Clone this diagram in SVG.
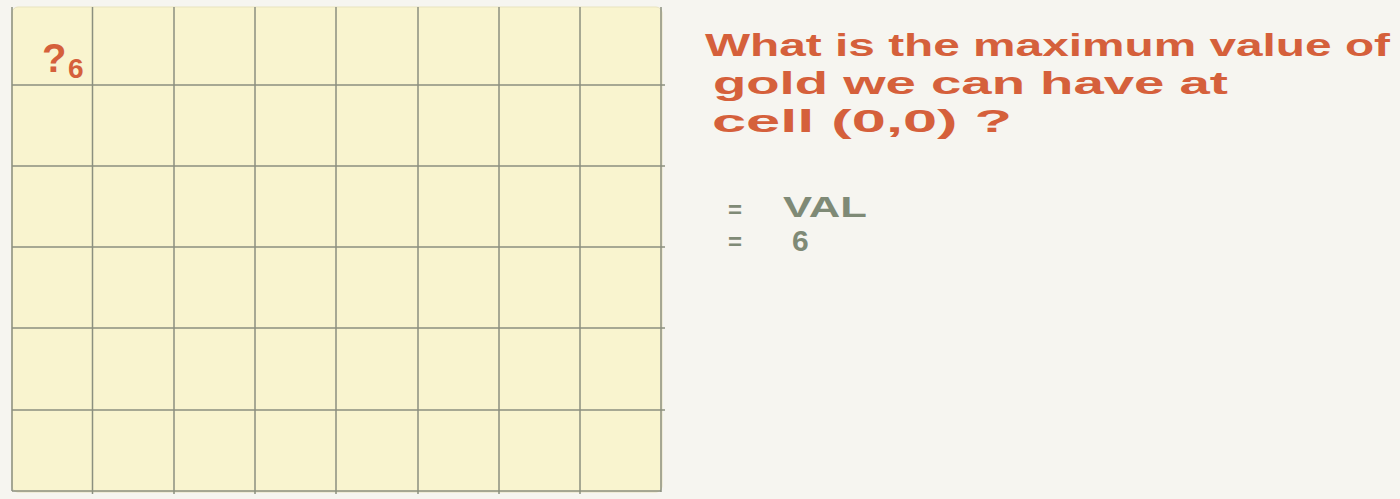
<svg xmlns="http://www.w3.org/2000/svg" width="1400" height="499" viewBox="0 0 1400 499">
<style>
.grid{stroke:#8b8f7f;stroke-width:1.5;fill:none}
.hand{font-family:"Liberation Sans",sans-serif;font-weight:bold;fill:#d5603b}
.ans{font-family:"Liberation Sans",sans-serif;font-weight:bold;fill:#7f8a76}
</style>
<rect width="1400" height="499" fill="#f6f5f0"/>
<g id="board">
<rect x="12" y="7" width="650" height="485" rx="6" fill="#f9f4cf" stroke="#e9e3bf" stroke-width="1"/>
<g class="grid">
<line x1="92.5" y1="7" x2="92.5" y2="494"/>
<line x1="174" y1="7" x2="174" y2="494"/>
<line x1="255" y1="7" x2="255" y2="494"/>
<line x1="336" y1="7" x2="336" y2="494"/>
<line x1="418" y1="7" x2="418" y2="494"/>
<line x1="499" y1="7" x2="499" y2="494"/>
<line x1="580" y1="7" x2="580" y2="494"/>
<line x1="661" y1="7" x2="661" y2="492"/>
<line x1="12" y1="85" x2="665" y2="85"/>
<line x1="12" y1="166" x2="665" y2="166"/>
<line x1="12" y1="247" x2="665" y2="247"/>
<line x1="12" y1="328" x2="665" y2="328"/>
<line x1="12" y1="410" x2="665" y2="410"/>
<line x1="12" y1="491" x2="661" y2="491"/>
<line x1="12" y1="7" x2="12" y2="491"/>
</g>
<text class="hand" x="42" y="72" font-size="40">?</text>
<text class="hand" x="68" y="78" font-size="28">6</text>
</g>
<g id="question">
<text class="hand" x="705" y="56" font-size="31" textLength="685" lengthAdjust="spacingAndGlyphs">What is the maximum value of</text>
<text class="hand" x="713" y="94" font-size="31" textLength="515" lengthAdjust="spacingAndGlyphs">gold we can have at</text>
<text class="hand" x="712" y="132" font-size="31" textLength="300" lengthAdjust="spacingAndGlyphs">cell (0,0) ?</text>
</g>
<g id="answer">
<text class="ans" x="728" y="218" font-size="24">=</text>
<text class="ans" x="783" y="217" font-size="30" textLength="84" lengthAdjust="spacingAndGlyphs">VAL</text>
<text class="ans" x="728" y="250" font-size="24">=</text>
<text class="ans" x="792" y="251" font-size="30">6</text>
</g>
</svg>
